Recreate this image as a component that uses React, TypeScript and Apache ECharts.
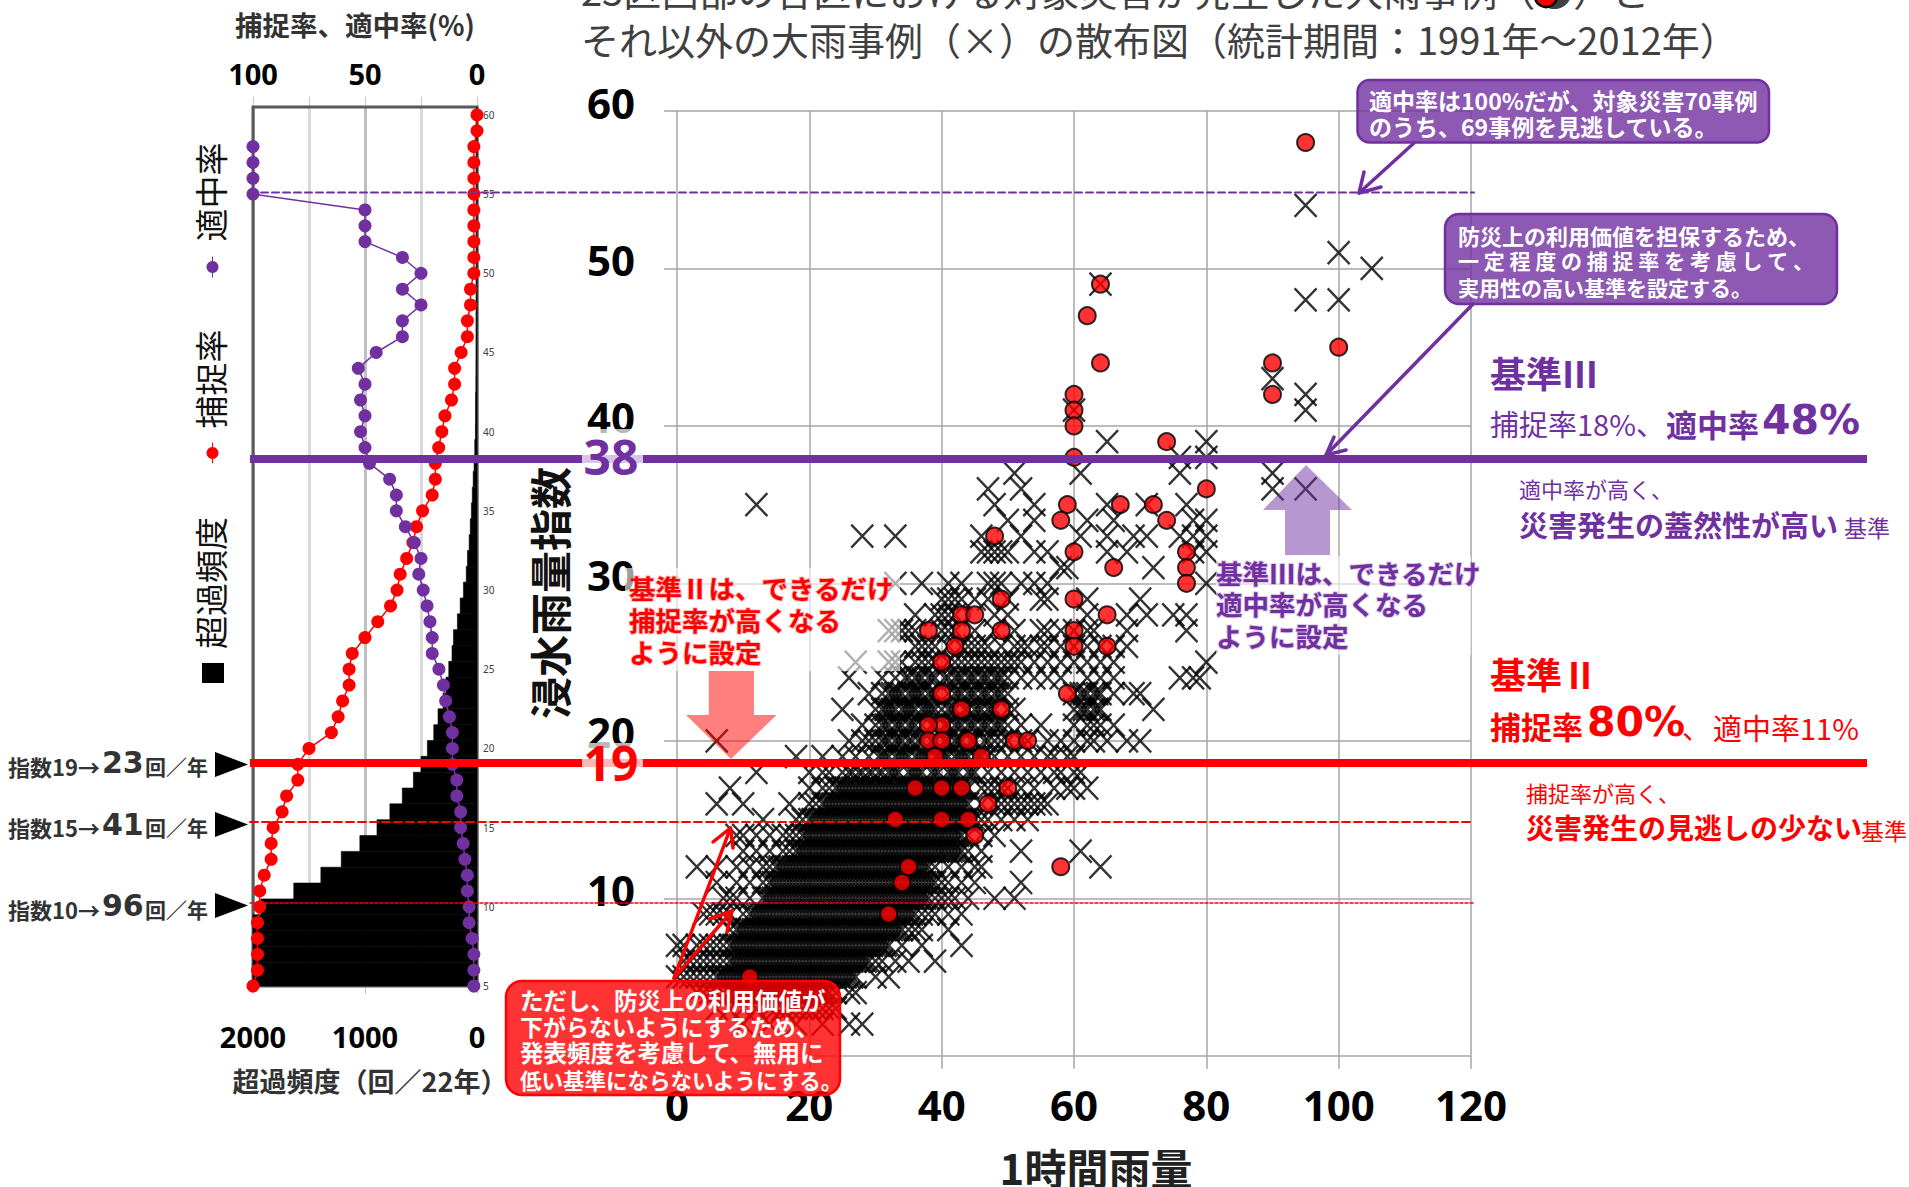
import React, { useEffect, useRef } from "react";
import * as echarts from "echarts";

const JP = "'Noto Sans CJK JP'";
const NUM = "'Noto Sans'";
const WIDE = "'DejaVu Sans'";
const PURPLE = "#7030a0";
const RED = "#ff0000";

// ---- left panel data, index 60 down to 5
const indexLevels = [60,59,58,57,56,55,54,53,52,51,50,49,48,47,46,45,44,43,42,41,40,39,38,37,36,35,34,33,32,31,30,29,28,27,26,25,24,23,22,21,20,19,18,17,16,15,14,13,12,11,10,9,8,7,6,5];
const captureRate = [0,0,1.4,1.4,1.4,1.4,1.4,1.4,1.4,1.4,1.4,2.9,2.9,4.3,4.3,7.1,10,10,11.4,14.3,15.7,17.1,18.6,18.6,20,24.3,27,28.6,31.4,34.3,35.7,38.6,44.3,50,55.7,57.1,57.1,60,62,65,75,80,80,85,87,91,91.9,91.9,95,97,97,98,98,98,98,100];
const precisionRate = [null,null,100,100,100,100,50,50,50,33.3,25,33.3,25,33.3,33.3,45,53,50,52,50,52,50,48,39,36,36,32,28,25,26,24,22.3,21,20,20,17,15,14,12.3,11,11,11,9,9,7.3,7.3,6.2,5.4,4.3,4.3,3.5,3.5,2.2,1.4,1.4,1.4];
const exceedFreq = [1,1,1,1,1,1,1,1,1,2,2,2,3,3,4,5,6,8,12,12,14,20,26,34,42,50,60,70,85,96,121,150,175,210,223,252,277,303,348,386,443,500,568,667,778,893,1046,1212,1394,1636,1930,2000,2000,2000,2000,2000];
const percentTicks = [100, 50, 0];
const freqTicks = [2000, 1000, 0];

// ---- scatter data: red circles (disaster cases)
const disasterCases = [[95,58],[64,49],[62,47],[64,44],[60,42],[60,41],[60,40],[60,38],[74,39],[90,44],[90,42],[100,45],[80,36],[59,35],[67,35],[72,35],[58,34],[74,34],[48,33],[60,32],[77,32],[77,31],[66,31],[77,30],[60,29],[49,29],[65,28],[43,28],[45,28],[38,27],[43,27],[49,27],[60,27],[60,26],[65,26],[42,26],[40,25],[40,23],[59,23],[43,22],[49,22],[40,21],[38,21],[38,20],[40,20],[44,20],[51,20],[53,20],[39,19],[46,19],[36,17],[40,17],[43,17],[50,17],[47,16],[33,15],[40,15],[44,15],[45,14],[35,12],[34,11],[32,9],[58,12],[11,5]];

// ---- scatter data: other heavy-rain cases, row by row [index, hourly rainfall values]
const otherRows: [number, number[]][] = [
  [2,[10,14,18,22,26,28]],
  [3,[6,8,10,12,14,15,16,17,18,19,20,21,22,23,24]],
  [4,[3,4,5,6,7,8,9,10,11,12,13,14,15,16,17,18,19,20,21,22,23,24,26,27]],
  [5,[0,1,2,3,4,5,6,7,8,9,10,11,12,13,14,15,16,17,18,19,20,21,22,23,24,25,26,27,30,32]],
  [6,[1,2,3,4,5,6,7,8,9,10,11,12,13,14,15,16,17,18,19,20,21,22,23,24,25,26,27,28,29,30,31,33,35,39]],
  [7,[0,1,3,4,5,6,7,8,9,10,11,12,13,14,15,16,17,18,19,20,21,22,23,24,25,26,27,28,29,30,31,32,34,37,43]],
  [8,[8,9,10,11,12,13,14,15,16,17,18,19,20,21,22,23,24,25,26,27,28,29,30,31,32,33,34,35,36,37,41]],
  [9,[4,5,6,7,8,10,11,12,13,14,15,16,17,18,19,20,21,22,23,24,25,26,27,28,29,30,31,32,33,34,35,36,37,38,39,41,43]],
  [10,[7,8,9,11,13,14,15,16,17,18,19,20,21,22,23,24,25,26,27,28,29,30,31,32,33,34,35,36,37,38,39,40,41,42,44,48,51]],
  [11,[6,9,11,13,14,15,16,17,18,19,20,21,22,23,24,25,26,27,28,29,30,31,32,33,34,35,36,37,38,39,40,41,43,45,52]],
  [12,[3,6,9,11,13,14,15,16,17,18,19,20,21,22,23,24,25,26,27,28,29,30,31,32,33,34,35,36,37,38,39,41,43,45,46,64]],
  [13,[10,12,14,16,17,18,19,20,21,22,23,24,25,26,27,28,29,30,31,32,33,34,35,36,37,38,39,40,41,42,43,44,46,52,61]],
  [14,[9,10,12,14,16,17,18,19,20,21,22,23,24,25,26,27,28,29,30,31,32,33,34,35,36,37,38,39,40,41,42,43,44,46,48]],
  [15,[13,18,19,20,21,22,23,24,25,26,27,28,29,30,31,32,33,34,35,36,37,38,39,40,41,42,43,44,45,46,47,49,51,53]],
  [16,[6,10,17,20,21,22,23,24,25,26,27,28,29,30,31,32,33,34,35,36,37,38,39,40,41,42,43,44,46,48,49,50,51,52,53,54,55,56]],
  [17,[8,20,22,23,24,25,26,27,28,29,30,31,32,33,34,35,36,37,38,39,40,41,42,43,44,46,47,48,49,50,52,54,57,59,60,62]],
  [18,[12,20,22,23,25,26,28,29,31,32,33,35,36,37,39,41,42,44,45,47,49,51,53,55,57,58,60,61]],
  [19,[18,22,25,27,29,31,32,33,34,35,36,37,38,39,40,41,42,43,44,45,46,47,48,50,52,54,56,57,59,60]],
  [20,[6,26,28,29,30,31,32,33,34,35,37,39,41,42,43,45,47,48,49,50,52,53,56,58,60,62,63,65,68,70]],
  [21,[28,30,31,32,33,34,35,36,37,39,41,42,43,44,45,46,47,48,49,50,52,55,60,62,63,64,66]],
  [22,[25,30,31,32,33,34,35,36,37,38,39,40,41,42,44,45,46,47,48,50,51,60,61,62,63,64,72]],
  [23,[29,31,32,33,34,35,36,37,38,39,41,42,43,44,45,46,47,48,49,50,60,61,62,63,64,66,69,70]],
  [24,[26,31,33,35,36,37,38,39,41,42,43,44,45,46,47,48,49,50,52,54,56,58,62,64,66,76,78,79]],
  [25,[27,32,33,34,36,37,38,39,41,42,43,44,45,46,47,48,49,50,51,52,54,56,58,60,62,64,66,80]],
  [26,[36,37,38,39,41,43,44,45,46,47,49,51,52,53,55,56,58,60,62,64,66,68]],
  [27,[32,33,34,35,36,40,41,42,45,48,51,55,56,58,60,62,63,68,77]],
  [28,[36,39,40,41,42,48,50,62,68,71,75,77]],
  [29,[40,41,42,43,45,47,50,55,56,62,70]],
  [30,[33,37,41,43,47,48,49,52,54,56,80]],
  [31,[58,59,72]],
  [32,[46,47,48,49,50,54,56,65,68,78,80]],
  [33,[28,33,46,52,61,65,69,71,76,78,80]],
  [34,[50,54,62,66,78,80]],
  [35,[12,48,54,65,71,77]],
  [36,[47,52,90,95]],
  [37,[51,61,76,90]],
  [38,[76,80]],
  [39,[65,80]],
  [41,[60,95]],
  [42,[95]],
  [43,[90]],
  [48,[95,100]],
  [49,[64]],
  [50,[105]],
  [51,[100]],
  [54,[95]],
];
// half-millimetre readings inside the solid core of the cloud
const otherCoreRows: [number, number[]][] = [
  [4,[8.5,9.5,10.5,11.5,12.5,13.5,14.5,15.5,16.5,17.5,18.5,19.5,20.5,21.5,22.5]],
  [5,[6.5,7.5,8.5,9.5,10.5,11.5,12.5,13.5,14.5,15.5,16.5,17.5,18.5,19.5,20.5,21.5,22.5,23.5,24.5,25.5,26.5]],
  [6,[8.5,9.5,10.5,11.5,12.5,13.5,14.5,15.5,16.5,17.5,18.5,19.5,20.5,21.5,22.5,23.5,24.5,25.5,26.5,27.5,28.5]],
  [7,[8.5,9.5,10.5,11.5,12.5,13.5,14.5,15.5,16.5,17.5,18.5,19.5,20.5,21.5,22.5,23.5,24.5,25.5,26.5,27.5,28.5,29.5,30.5,31.5]],
  [8,[9.5,10.5,11.5,12.5,13.5,14.5,15.5,16.5,17.5,18.5,19.5,20.5,21.5,22.5,23.5,24.5,25.5,26.5,27.5,28.5,29.5,30.5,31.5,32.5,33.5]],
  [9,[11.5,12.5,13.5,14.5,15.5,16.5,17.5,18.5,19.5,20.5,21.5,22.5,23.5,24.5,25.5,26.5,27.5,28.5,29.5,30.5,31.5,32.5,33.5,34.5,35.5]],
  [10,[13.5,14.5,15.5,16.5,17.5,18.5,19.5,20.5,21.5,22.5,23.5,24.5,25.5,26.5,27.5,28.5,29.5,30.5,31.5,32.5,33.5,34.5,35.5,36.5,37.5]],
  [11,[14.5,15.5,16.5,17.5,18.5,19.5,20.5,21.5,22.5,23.5,24.5,25.5,26.5,27.5,28.5,29.5,30.5,31.5,32.5,33.5,34.5,35.5,36.5,37.5,38.5]],
  [12,[15.5,16.5,17.5,18.5,19.5,20.5,21.5,22.5,23.5,24.5,25.5,26.5,27.5,28.5,29.5,30.5,31.5,32.5,33.5,34.5,35.5,36.5,37.5]],
  [13,[18.5,19.5,20.5,21.5,22.5,23.5,24.5,25.5,26.5,27.5,28.5,29.5,30.5,31.5,32.5,33.5,34.5,35.5,36.5,37.5,38.5,39.5,40.5,41.5,42.5]],
  [14,[19.5,20.5,21.5,22.5,23.5,24.5,25.5,26.5,27.5,28.5,29.5,30.5,31.5,32.5,33.5,34.5,35.5,36.5,37.5,38.5,39.5,40.5,41.5,42.5]],
  [15,[20.5,21.5,22.5,23.5,24.5,25.5,26.5,27.5,28.5,29.5,30.5,31.5,32.5,33.5,34.5,35.5,36.5,37.5,38.5,39.5,40.5,41.5,42.5,43.5,44.5]],
  [16,[22.5,23.5,24.5,25.5,26.5,27.5,28.5,29.5,30.5,31.5,32.5,33.5,34.5,35.5,36.5,37.5,38.5,39.5,40.5,41.5,42.5,43.5]],
  [17,[24.5,25.5,26.5,27.5,28.5,29.5,30.5,31.5,32.5,33.5,34.5,35.5,36.5,37.5,38.5,39.5,40.5,41.5,42.5,43.5]],
  [18,[26.5,27.5,29.5,30.5,32.5,33.5,35.5,36.5,38.5,39.5,41.5,42.5,44.5]],
  [19,[30.5,31.5,33.5,34.5,36.5,37.5,39.5,40.5,42.5,43.5,45.5]],
  [20,[31.5,33.5,35.5,36.5,38.5,40.5,42.5,44.5,46.5]],
  [21,[31.5,33.5,35.5,38.5,40.5,42.5,44.5,46.5,48.5]],
  [22,[31.5,32.5,34.5,35.5,37.5,38.5,41.5,43.5,45.5,47.5,61.5,63.5]],
  [23,[32.5,33.5,35.5,36.5,38.5,42.5,44.5,46.5,48.5,61.5,63.5]],
  [24,[34.5,36.5,38.5,40.5,42.5,44.5,46.5,48.5]],
];

const crossPoints = (rows: [number, number[]][]) => {
  const out: number[][] = [];
  rows.forEach(([y, xs]) => xs.forEach((x) => out.push([x, y])));
  return out;
};

const txt = (x: number, y: number, text: string, size: number, fill: string, weight: string = "normal", family: string = JP, extra: any = {}) => ({
  type: "text", x, y, z: 120, rotation: extra.rotation || 0, silent: true,
  style: { text, fill, fontSize: size, fontWeight: weight, fontFamily: family, align: extra.align || "left", verticalAlign: "middle", stroke: extra.stroke, lineWidth: extra.lineWidth || 0 },
});
const seg = (pts: number[][], stroke: string, lineWidth: number, z = 110, lineDash?: number[]) => ({
  type: "polyline", z, silent: true, shape: { points: pts }, style: { stroke, lineWidth, fill: "none", lineDash, lineCap: "round", lineJoin: "round" },
});
const box = (x: number, y: number, w: number, h: number, r: number, fill: string, stroke: string, z = 115) => ({
  type: "rect", z, silent: true, shape: { x, y, width: w, height: h, r }, style: { fill, stroke, lineWidth: 2.5 },
});
const tri = (pts: number[][], fill: string, z = 105) => ({ type: "polygon", z, silent: true, shape: { points: pts }, style: { fill } });

const annotations: any[] = [
  // headline
  txt(581, -11, "23区西部の各区における対象災害が発生した大雨事例（●）と", 38, "#404040"),
  { type: "circle", z: 121, silent: true, shape: { cx: 1546, cy: -4, r: 11 }, style: { fill: RED, stroke: "#000", lineWidth: 2.5 } },
  txt(581, 38, "それ以外の大雨事例（×）の散布図（統計期間：1991年～2012年）", 38, "#404040"),

  // left panel titles and rotated legend
  txt(355, 24, "捕捉率、適中率(%)", 27.5, "#333", "bold", JP, { align: "center" }),
  txt(370, 1080, "超過頻度（回／22年）", 27, "#333", "bold", JP, { align: "center" }),
  txt(210, 192, "適中率", 33, "#111", "normal", JP, { align: "center", rotation: Math.PI / 2 }),
  txt(210, 379, "捕捉率", 33, "#111", "normal", JP, { align: "center", rotation: Math.PI / 2 }),
  txt(210, 583, "超過頻度", 33, "#111", "normal", JP, { align: "center", rotation: Math.PI / 2 }),
  seg([[212.5, 257], [212.5, 277]], PURPLE, 1, 110),
  { type: "circle", z: 111, silent: true, shape: { cx: 212.5, cy: 267, r: 6 }, style: { fill: PURPLE } },
  seg([[212.5, 443], [212.5, 463]], RED, 1, 110),
  { type: "circle", z: 111, silent: true, shape: { cx: 212.5, cy: 453, r: 6 }, style: { fill: RED } },
  { type: "rect", z: 111, silent: true, shape: { x: 202, y: 663, width: 22, height: 20 }, style: { fill: "#000" } },

  // exceedance callouts on the left
  txt(8, 766, "指数19→", 22, "#333", "bold"),
  txt(102, 762, "23", 30, "#333", "bold", WIDE),
  txt(145, 766, "回／年", 21, "#333", "bold"),
  txt(8, 827, "指数15→", 22, "#333", "bold"),
  txt(102, 824, "41", 30, "#333", "bold", WIDE),
  txt(145, 827, "回／年", 21, "#333", "bold"),
  txt(8, 909, "指数10→", 22, "#333", "bold"),
  txt(102, 905, "96", 30, "#333", "bold", WIDE),
  txt(145, 909, "回／年", 21, "#333", "bold"),
  tri([[215, 752], [248, 764.5], [215, 777]], "#000"),
  tri([[215, 812], [248, 824.5], [215, 837]], "#000"),
  tri([[215, 893], [248, 905.5], [215, 918]], "#000"),

  // threshold lines
  seg([[250, 192.5], [1474, 192.5]], PURPLE, 2, 100, [7, 4]),
  seg([[250, 822], [1474, 822]], RED, 2, 100, [8, 4]),
  seg([[250, 903], [1474, 903]], RED, 1.5, 100, [3, 2]),
  { type: "rect", z: 101, silent: true, shape: { x: 250, y: 455, width: 1617, height: 8 }, style: { fill: PURPLE } },
  { type: "rect", z: 101, silent: true, shape: { x: 250, y: 759, width: 1617, height: 8 }, style: { fill: RED } },
  { type: "rect", z: 102, silent: true, shape: { x: 582, y: 429, width: 61, height: 46 }, style: { fill: "rgba(255,255,255,0.72)" } },
  { type: "rect", z: 102, silent: true, shape: { x: 582, y: 743, width: 61, height: 40 }, style: { fill: "rgba(255,255,255,0.72)" } },
  txt(611, 456, "38", 48, PURPLE, "bold", NUM, { align: "center" }),
  txt(611, 762, "19", 48, RED, "bold", NUM, { align: "center" }),

  // translucent block arrows
  tri([[708.7, 671], [754, 671], [754, 715], [776.5, 715], [731, 759], [686, 715], [708.7, 715]], "rgba(255,0,0,0.5)"),
  tri([[1306, 465], [1352, 510], [1330, 510], [1330, 555], [1285, 555], [1285, 510], [1263, 510]], "rgba(112,48,160,0.5)"),

  // translucent text plates + text inside the plot
  { type: "rect", z: 103, silent: true, shape: { x: 625, y: 568, width: 275, height: 103 }, style: { fill: "rgba(255,255,255,0.62)" } },
  { type: "rect", z: 103, silent: true, shape: { x: 1216, y: 556, width: 255, height: 99 }, style: { fill: "rgba(255,255,255,0.62)" } },
  txt(629, 587, "基準Ⅱは、できるだけ", 26.5, RED, "bold", JP, { stroke: "rgba(255,0,0,0.25)", lineWidth: 2 }),
  txt(629, 619, "捕捉率が高くなる", 26.5, RED, "bold", JP, { stroke: "rgba(255,0,0,0.25)", lineWidth: 2 }),
  txt(629, 651, "ように設定", 26.5, RED, "bold", JP, { stroke: "rgba(255,0,0,0.25)", lineWidth: 2 }),
  txt(1216, 572, "基準Ⅲは、できるだけ", 26.5, PURPLE, "bold", JP, { stroke: "rgba(112,48,160,0.25)", lineWidth: 2 }),
  txt(1216, 603, "適中率が高くなる", 26.5, PURPLE, "bold", JP, { stroke: "rgba(112,48,160,0.25)", lineWidth: 2 }),
  txt(1216, 635, "ように設定", 26.5, PURPLE, "bold", JP, { stroke: "rgba(112,48,160,0.25)", lineWidth: 2 }),

  // purple callouts and arrows
  seg([[1414, 143], [1359, 193]], PURPLE, 3.5),
  seg([[1364, 172], [1359, 193], [1381, 187]], PURPLE, 3.5),
  seg([[1473, 304], [1326, 455]], PURPLE, 3.5),
  seg([[1334, 437], [1326, 455], [1346, 450]], PURPLE, 3.5),
  box(1357.5, 80, 411.5, 62.5, 12, "rgba(112,48,160,0.8)", PURPLE),
  txt(1369, 100, "適中率は100%だが、対象災害70事例", 23, "#fff", "bold"),
  txt(1369, 126, "のうち、69事例を見逃している。", 23, "#fff", "bold"),
  box(1445, 214, 392, 90, 14, "rgba(112,48,160,0.8)", PURPLE),
  txt(1458, 235, "防災上の利用価値を担保するため、", 22, "#fff", "bold"),
  txt(1458, 260, "一 定 程 度 の 捕 捉 率 を 考 慮 し て 、", 21, "#fff", "bold"),
  txt(1458, 287, "実用性の高い基準を設定する。", 21, "#fff", "bold"),

  // red callout and arrows
  seg([[674, 978], [730.5, 828]], RED, 3.5),
  seg([[713, 842], [730.5, 828], [733, 848]], RED, 3.5),
  seg([[674, 978], [732, 911]], RED, 3.5),
  seg([[710, 919], [732, 911], [727, 932]], RED, 3.5),
  box(506, 981, 334, 114, 16, "rgba(255,0,0,0.8)", RED),
  txt(520, 1000, "ただし、防災上の利用価値が", 23.5, "#fff", "bold"),
  txt(520, 1026, "下がらないようにするため、", 23, "#fff", "bold"),
  txt(520, 1052, "発表頻度を考慮して、無用に", 23.5, "#fff", "bold"),
  txt(520, 1079, "低い基準にならないようにする。", 21.5, "#fff", "bold"),

  // right-hand captions: criterion III
  txt(1490, 372, "基準Ⅲ", 36, PURPLE, "bold"),
  txt(1490, 423, "捕捉率18%、", 29, PURPLE),
  txt(1666, 423, "適中率", 31, PURPLE, "bold"),
  txt(1762, 420, "48%", 41, PURPLE, "bold", WIDE),
  txt(1519, 488, "適中率が高く、", 22, PURPLE),
  txt(1519, 524, "災害発生の蓋然性が高い", 29, PURPLE, "bold"),
  txt(1844, 527, "基準", 23, PURPLE),

  // right-hand captions: criterion II
  txt(1490, 673, "基準Ⅱ", 36, RED, "bold"),
  txt(1490, 725, "捕捉率", 31, RED, "bold"),
  txt(1587, 722, "80%", 41, RED, "bold", WIDE),
  txt(1682, 727, "、", 28, RED),
  txt(1713, 727, "適中率11%", 29, RED),
  txt(1526, 792, "捕捉率が高く、", 22, RED),
  txt(1526, 827, "災害発生の見逃しの少ない", 28, RED, "bold"),
  txt(1861, 830, "基準", 23, RED),

  // scatter axis titles
  txt(548, 593, "浸水雨量指数", 42, "#111", "bold", JP, { align: "center", rotation: Math.PI / 2 }),
  txt(1096, 1166, "1時間雨量", 42, "#222", "bold", JP, { align: "center" }),
];

const CROSS = "path://M0 0L10 10M10 0L0 10";

export default function App() {
  const ref = useRef<HTMLDivElement>(null);
  useEffect(() => {
    document.body.style.margin = "0";
    const chart = echarts.init(ref.current!, undefined, { renderer: "svg" });
    chart.setOption({
      animation: false,
      backgroundColor: "#fff",
      grid: [
        { left: 253, top: 107, width: 224, height: 879, show: true, borderColor: "#595959", borderWidth: 3, backgroundColor: "transparent", z: 1 },
        { left: 677, top: 111, width: 794, height: 944.7, show: false },
      ],
      xAxis: [
        {
          gridIndex: 0, type: "value", position: "top", inverse: true, min: 0, max: 100, interval: 25,
          axisLine: { show: false }, axisTick: { show: true, length: 10, lineStyle: { color: "#c8c8c8", width: 1 }, inside: false },
          splitLine: { show: true, lineStyle: { color: "#d9d9d9", width: 3 } },
          axisLabel: { margin: 19, color: "#000", fontSize: 29, fontWeight: "bold", fontFamily: NUM, formatter: (v: number) => (percentTicks.includes(v) ? String(v) : "") },
        },
        {
          gridIndex: 0, type: "value", position: "bottom", inverse: true, min: 0, max: 2000, interval: 1000,
          axisLine: { show: false }, axisTick: { show: true, length: 8, lineStyle: { color: "#c8c8c8", width: 1 } },
          splitLine: { show: true, lineStyle: { color: "#bfbfbf", width: 3 } },
          axisLabel: { margin: 36, color: "#000", fontSize: 29, fontWeight: "bold", fontFamily: NUM, formatter: (v: number) => (freqTicks.includes(v) ? String(v) : "") },
        },
        {
          gridIndex: 1, type: "value", min: 0, max: 120, interval: 20,
          axisLine: { show: false }, axisTick: { show: true, length: 13, lineStyle: { color: "#a6a6a6", width: 1.5 } },
          splitLine: { show: true, lineStyle: { color: "#a6a6a6", width: 1.5 } },
          axisLabel: { margin: 28, color: "#000", fontSize: 42, fontWeight: "bold", fontFamily: NUM },
        },
      ],
      yAxis: [
        {
          gridIndex: 0, type: "value", position: "right", min: 5, max: 60.5, interval: 5,
          axisLine: { show: false }, axisTick: { show: false }, splitLine: { show: false },
          axisLabel: { margin: 6, color: "#404040", fontSize: 10, fontFamily: NUM, showMaxLabel: false },
        },
        {
          gridIndex: 1, type: "value", min: 0, max: 60, interval: 10,
          axisLine: { show: false }, axisTick: { show: true, length: 13, lineStyle: { color: "#a6a6a6", width: 1.5 } },
          splitLine: { show: true, lineStyle: { color: "#a6a6a6", width: 1.5 } },
          axisLabel: { margin: 42, verticalAlign: "bottom", lineHeight: 18, color: "#000", fontSize: 42, fontWeight: "bold", fontFamily: NUM, showMaxLabel: true, formatter: (v: number) => (v === 0 ? "" : String(v)) },
        },
      ],
      series: [
        {
          type: "custom", name: "超過頻度", xAxisIndex: 1, yAxisIndex: 0, z: 2, encode: { x: 0, y: 1 },
          data: indexLevels.map((lv, i) => [exceedFreq[i], lv]),
          renderItem: (params: any, api: any) => {
            const v = api.value(0), lv = api.value(1);
            const a = api.coord([v, lv + 0.5]);
            const b = api.coord([0, lv - 0.5]);
            const rect = echarts.graphic.clipRectByRect(
              { x: a[0], y: a[1], width: b[0] - a[0], height: b[1] - a[1] },
              { x: params.coordSys.x, y: params.coordSys.y, width: params.coordSys.width, height: params.coordSys.height },
            );
            return rect && { type: "rect", shape: rect, style: { fill: "#000", stroke: "#000", lineWidth: 0.6 } };
          },
        },
        {
          type: "line", name: "捕捉率", xAxisIndex: 0, yAxisIndex: 0, z: 4, clip: false, symbol: "circle", symbolSize: 13,
          lineStyle: { color: RED, width: 1.5 }, itemStyle: { color: RED },
          data: indexLevels.map((lv, i) => [captureRate[i], lv]),
        },
        {
          type: "line", name: "適中率", xAxisIndex: 0, yAxisIndex: 0, z: 5, clip: false, symbol: "circle", symbolSize: 13,
          lineStyle: { color: PURPLE, width: 1.5 }, itemStyle: { color: PURPLE },
          data: indexLevels.map((lv, i) => [precisionRate[i], lv]).filter((d) => d[0] !== null),
        },
        {
          type: "scatter", name: "その他の大雨事例", xAxisIndex: 2, yAxisIndex: 1, z: 3, symbol: CROSS, symbolSize: [22, 23],
          itemStyle: { color: "transparent", borderColor: "#000", borderWidth: 2.4 },
          data: crossPoints(otherRows).concat(crossPoints(otherCoreRows)),
        },
        {
          type: "scatter", name: "対象災害", xAxisIndex: 2, yAxisIndex: 1, z: 6, symbol: "circle", symbolSize: 17,
          itemStyle: { color: RED, borderColor: "#000", borderWidth: 2 },
          data: disasterCases,
        },
      ],
      graphic: { elements: annotations },
    });
    return () => chart.dispose();
  }, []);
  return <div ref={ref} style={{ position: "absolute", left: 0, top: 0, width: 1909, height: 1187 }} />;
}
